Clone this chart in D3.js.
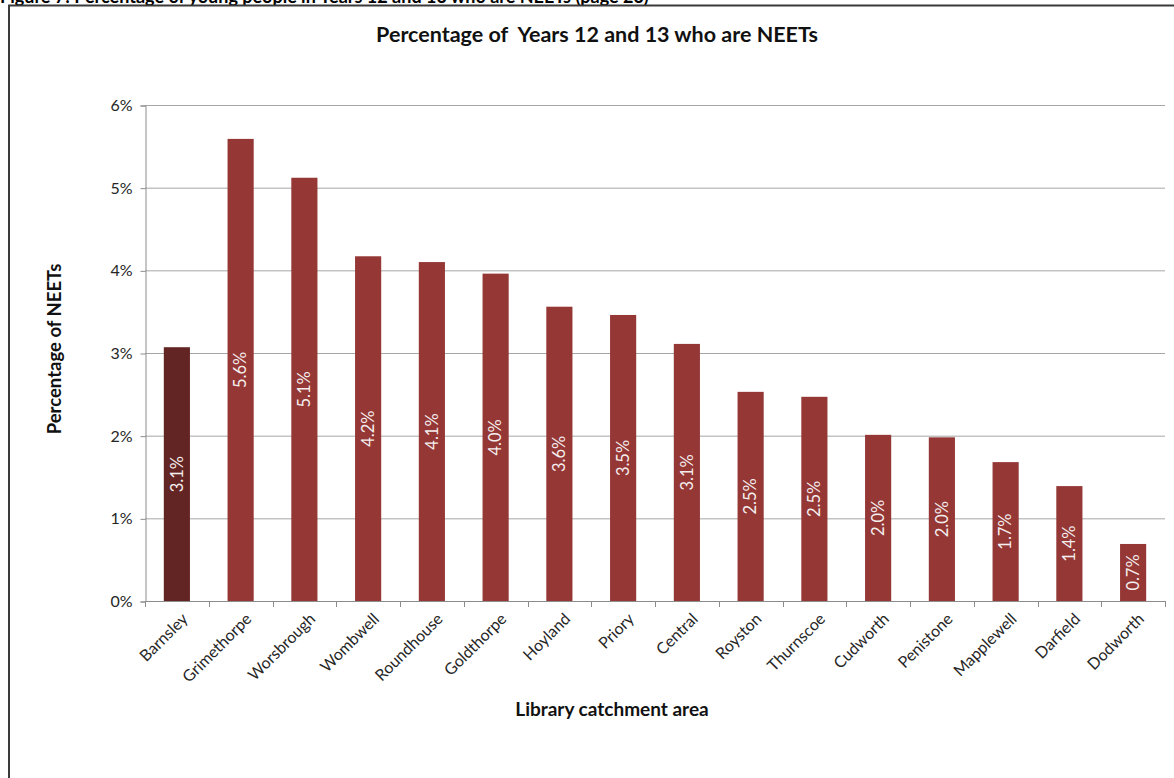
<!DOCTYPE html>
<html>
<head>
<meta charset="utf-8">
<script src="https://cdn.jsdelivr.net/npm/d3@7"></script>
<style>
  html, body { margin: 0; padding: 0; background: #fff; }
  svg { display: block; font-family: Lato, "Open Sans", "Noto Sans", sans-serif; }
</style>
</head>
<body>
<svg id="chart" width="1174" height="778"></svg>
<script>
// Library catchment areas, ordered as shown (borough total first)
const areas = ["Barnsley", "Grimethorpe", "Worsbrough", "Wombwell", "Roundhouse", "Goldthorpe",
  "Hoyland", "Priory", "Central", "Royston", "Thurnscoe", "Cudworth", "Penistone",
  "Mapplewell", "Darfield", "Dodworth"];
// Share of Years 12 and 13 who are NEET (fraction)
const neetShare = [0.0307, 0.0559, 0.0512, 0.0417, 0.0410, 0.0396,
  0.0356, 0.0346, 0.0311, 0.0253, 0.0247, 0.0201, 0.0198,
  0.0168, 0.0139, 0.0069];
const yTicks = [0, 0.01, 0.02, 0.03, 0.04, 0.05, 0.06];

const svg = d3.select("#chart");

// Figure caption running along the top edge of the page
svg.append("text")
  .attr("x", 0).attr("y", 3)
  .attr("font-size", 18).attr("font-weight", "bold").attr("fill", "#000")
  .text("Figure 7: Percentage of young people in Years 12 and 13 who are NEETs (page 23)");

// Chart frame
svg.append("rect")
  .attr("x", 9).attr("y", 5.5).attr("width", 1200).attr("height", 800)
  .attr("fill", "#fff").attr("stroke", "#3a3a3a").attr("stroke-width", 2);

const plot = { left: 145, right: 1165, top: 105, bottom: 601 };

const x = d3.scaleBand().domain(areas).range([plot.left, plot.right]).paddingInner(0.59).paddingOuter(0.295);
const xBand = d3.scaleBand().domain(areas).range([plot.left, plot.right]);
const y = d3.scaleLinear().domain([0, 0.06]).range([plot.bottom, plot.top]);

// Horizontal gridlines
svg.append("g").selectAll("line").data(yTicks.filter(d => d > 0)).join("line")
  .attr("x1", plot.left).attr("x2", plot.right)
  .attr("y1", d => y(d) + 0.5).attr("y2", d => y(d) + 0.5)
  .attr("stroke", "#a6a6a6").attr("stroke-width", 1);

// Y axis
const yAxis = d3.axisLeft(y).tickValues(yTicks).tickFormat(d3.format(".0%")).tickSize(5).tickPadding(8);
const gy = svg.append("g").attr("transform", `translate(${plot.left + 0.5},0.5)`).call(yAxis);
gy.select(".domain").attr("stroke", "#8c8c8c");
gy.selectAll(".tick line").attr("stroke", "#8c8c8c");
gy.selectAll(".tick text").attr("font-size", 16).attr("fill", "#262626")
  .attr("font-family", "Lato, 'Open Sans', sans-serif");

// Bars
const barColor = (d, i) => i === 0 ? "#632523" : "#953735";
svg.append("g").selectAll("rect").data(areas).join("rect")
  .attr("x", d => x(d))
  .attr("y", (d, i) => y(neetShare[i]))
  .attr("width", x.bandwidth())
  .attr("height", (d, i) => y(0) - y(neetShare[i]))
  .attr("fill", barColor);

// Value labels inside bars, rotated
const fmt = d3.format(".1%");
svg.append("g").selectAll("text").data(areas).join("text")
  .attr("transform", (d, i) => {
    const cx = x(d) + x.bandwidth() / 2;
    const cy = (y(neetShare[i]) + y(0)) / 2;
    return `translate(${cx},${cy}) rotate(-90)`;
  })
  .attr("text-anchor", "middle").attr("dy", "0.35em")
  .attr("font-size", 16.5).attr("fill", "#f4eeee")
  .text((d, i) => fmt(neetShare[i]));

// X axis: baseline with ticks at category boundaries
const gx = svg.append("g");
gx.append("line")
  .attr("x1", plot.left).attr("x2", plot.right)
  .attr("y1", plot.bottom + 0.5).attr("y2", plot.bottom + 0.5)
  .attr("stroke", "#8c8c8c");
const bounds = areas.map(d => xBand(d)).concat([plot.right]);
gx.selectAll("line.tk").data(bounds).join("line").attr("class", "tk")
  .attr("x1", d => Math.round(d) + 0.5).attr("x2", d => Math.round(d) + 0.5)
  .attr("y1", plot.bottom).attr("y2", plot.bottom + 6)
  .attr("stroke", "#8c8c8c");
gx.selectAll("text").data(areas).join("text")
  .attr("transform", d => `translate(${xBand(d) + xBand.bandwidth() / 2 + 8},${plot.bottom + 15}) rotate(-45)`)
  .attr("text-anchor", "end").attr("dy", "0.35em")
  .attr("font-size", 16).attr("fill", "#262626")
  .text(d => d);

// Titles
svg.append("text")
  .attr("x", 597).attr("y", 42).attr("text-anchor", "middle")
  .attr("font-size", 21.5).attr("font-weight", "bold").attr("fill", "#111")
  .attr("xml:space", "preserve")
  .text("Percentage of  Years 12 and 13 who are NEETs");

svg.append("text")
  .attr("x", 612).attr("y", 716).attr("text-anchor", "middle")
  .attr("font-size", 19).attr("font-weight", "bold").attr("fill", "#111")
  .text("Library catchment area");

svg.append("text")
  .attr("transform", "translate(61,349) rotate(-90)")
  .attr("text-anchor", "middle")
  .attr("font-size", 18.5).attr("font-weight", "bold").attr("fill", "#111")
  .text("Percentage of NEETs");
</script>
</body>
</html>
